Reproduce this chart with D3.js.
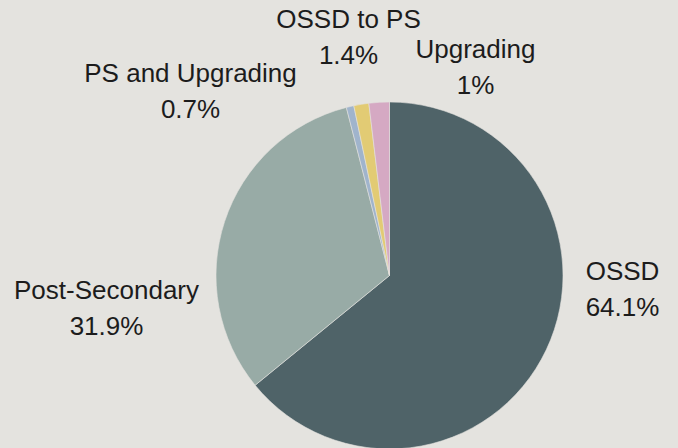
<!DOCTYPE html>
<html>
<head>
<meta charset="utf-8">
<script src="https://cdn.jsdelivr.net/npm/d3@7"></script>
<style>
  html, body { margin: 0; padding: 0; background: #e4e3df; }
  svg { display: block; }
  text { font-family: "Liberation Sans", Arial, sans-serif; fill: #1c1c1c; }
</style>
</head>
<body>
<div class="chart"></div>
<script>
// Data
const categories = ["OSSD", "Post-Secondary", "PS and Upgrading", "OSSD to PS", "Upgrading"];
const shares = [64.1, 31.9, 0.7, 1.4, 1.9];           // slice sizes as drawn
const pctLabels = ["64.1%", "31.9%", "0.7%", "1.4%", "1%"]; // printed values
const colors = ["#4f6368", "#98aba6", "#a0b4cc", "#e2cb74", "#d5a9c3"];

// label anchors, relative to pie centre (centre x, first baseline)
const labelAnchors = [[233, 4], [-283, 23], [-199, -194], [-41, -248], [86, -218]];

function draw() {
    const width = 678, height = 448,
        cx = 389.5, cy = 275.5,
        radius = 173.5,
        lineGap = 36;

    const svg = d3.select(".chart")
        .append("svg")
        .attr("width", width)
        .attr("height", height);

    svg.append("rect")
        .attr("width", width)
        .attr("height", height)
        .attr("fill", "#e4e3df");

    const dataset = categories.map((c, i) => ({ name: c, value: shares[i], label: pctLabels[i], i }));

    const pie = d3.pie()
        .sort(null)
        .value(d => d.value);
    const arc = d3.arc()
        .innerRadius(0)
        .outerRadius(radius);

    const g = svg.append("g")
        .attr("transform", `translate(${cx}, ${cy})`);

    g.selectAll("path")
        .data(pie(dataset))
        .enter()
        .append("path")
        .attr("d", arc)
        .attr("fill", d => colors[d.data.i])
        .attr("stroke", "#e4e3df")
        .attr("stroke-width", 0.6);

    // labels
    const labels = g.selectAll("text.lbl")
        .data(dataset)
        .enter()
        .append("text")
        .attr("class", "lbl")
        .attr("text-anchor", "middle")
        .attr("font-size", 26)
        .attr("transform", d => `translate(${labelAnchors[d.i][0]}, ${labelAnchors[d.i][1]})`);

    labels.append("tspan")
        .attr("x", 0)
        .attr("y", 0)
        .text(d => d.name);
    labels.append("tspan")
        .attr("x", 0)
        .attr("y", lineGap)
        .text(d => d.label);
}

document.addEventListener("DOMContentLoaded", draw);
</script>
</body>
</html>
